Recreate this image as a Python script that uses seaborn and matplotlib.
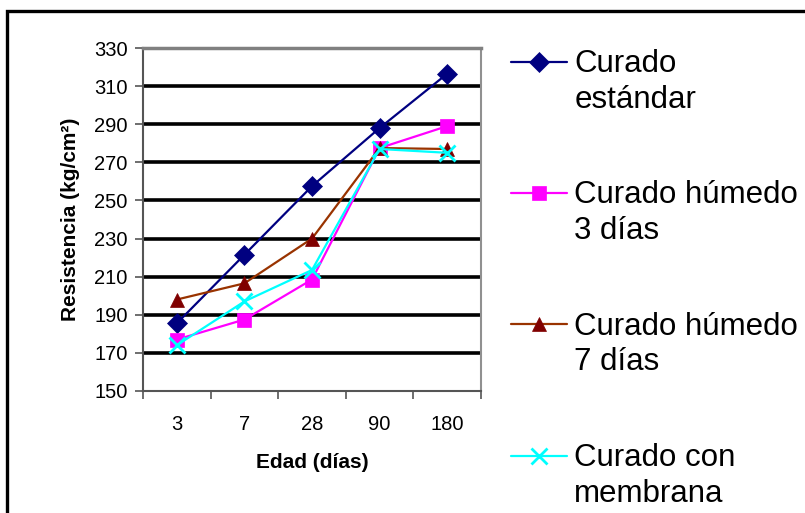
import matplotlib
matplotlib.use("Agg")
import matplotlib.pyplot as plt
from matplotlib.patches import Rectangle
import pandas as pd
import seaborn as sns

# data
edades = ["3", "7", "28", "90", "180"]
estandar = [185.5, 221.5, 257.5, 288, 316.5]
humedo_3 = [177, 187.5, 208.5, 277.5, 289]
humedo_7 = [198, 206.5, 230, 277.5, 277]
membrana = [174, 197, 213.5, 277, 275]

series = [
    ("Curado\nestándar", estandar),
    ("Curado húmedo\n3 días", humedo_3),
    ("Curado húmedo\n7 días", humedo_7),
    ("Curado con\nmembrana", membrana),
]
line_colors = ["#000080", "#FF00FF", "#993300", "#00FFFF"]
marker_colors = ["#000080", "#FF00FF", "#800000", "#00FFFF"]
markers = ["D", "s", "^", "x"]
marker_sizes = [10, 10, 10, 11]

sns.set_style("white")
plt.rcParams["font.family"] = ["Liberation Sans", "DejaVu Sans"]
plt.rcParams["text.color"] = "black"
plt.rcParams["axes.labelcolor"] = "black"
plt.rcParams["xtick.color"] = "black"
plt.rcParams["ytick.color"] = "black"

fig = plt.figure(figsize=(8.05, 5.13), dpi=100)
ax = fig.add_axes([143 / 805, 122 / 513, 338 / 805, 343 / 513])

pos = list(range(len(edades)))
for (name, vals), lc, mc, m, ms in zip(series, line_colors, marker_colors, markers, marker_sizes):
    df = pd.DataFrame({"pos": pos, "res": vals})
    sns.lineplot(data=df, x="pos", y="res", ax=ax, color=lc, marker=m,
                 markersize=ms, markerfacecolor=mc, markeredgecolor=mc,
                 markeredgewidth=2 if m == "x" else 0.5, linewidth=1.6,
                 label=name, sort=False, zorder=3)

ax.set_xlim(-0.5, len(edades) - 0.5)
ax.set_ylim(150, 330)
ax.set_yticks(range(150, 331, 20))
ax.set_xticks([p - 0.5 for p in pos] + [len(edades) - 0.5])
ax.set_xticklabels([])
ax.set_xticks(pos, minor=True)
ax.set_xticklabels(edades, minor=True)
ax.tick_params(axis="x", which="major", length=6, width=1.2, color="#555555", direction="out")
ax.tick_params(axis="x", which="minor", length=0, pad=17, labelsize=14.5)
ax.tick_params(axis="y", length=6, width=1.2, color="#555555", direction="out", pad=5, labelsize=14.5)
ax.tick_params(axis="both", which="both", bottom=True, left=True)

ax.grid(axis="y", color="black", linewidth=2.6)
ax.grid(axis="x", visible=False)
gls = ax.get_ygridlines()
gls[0].set_visible(False)
gls[-1].set_visible(False)

for side, col, lw in [("top", "#808080", 2.5), ("right", "#909090", 1.5),
                      ("left", "#555555", 1.5), ("bottom", "#555555", 1.5)]:
    ax.spines[side].set_visible(True)
    ax.spines[side].set_color(col)
    ax.spines[side].set_linewidth(lw)

ax.set_xlabel("Edad (días)", fontsize=15, fontweight="bold", labelpad=14)
ax.set_ylabel("Resistencia (kg/cm²)", fontsize=15, fontweight="bold", labelpad=10)

ax.legend_.remove()
handles, labels = ax.get_legend_handles_labels()
leg = fig.legend(handles, labels, loc="upper left", bbox_to_anchor=(511 / 805, 1 - 49 / 513),
                 frameon=False, fontsize=22.5, handlelength=1.8, handletextpad=0.22,
                 handleheight=1.05, labelspacing=2.1, borderpad=0, borderaxespad=0)
for t in leg.get_texts():
    t.set_linespacing(1.25)
# put each handle level with the first line of its label
for col in leg._legend_handle_box.get_children():
    for row in col.get_children():
        row.align = "top"

fig.patches.append(Rectangle((6.5 / 805, -0.1), 1.2, 1 - 11.5 / 513 + 0.1,
                             transform=fig.transFigure, fill=False,
                             edgecolor="black", linewidth=2.4))

fig.savefig("out.png", dpi=100)
